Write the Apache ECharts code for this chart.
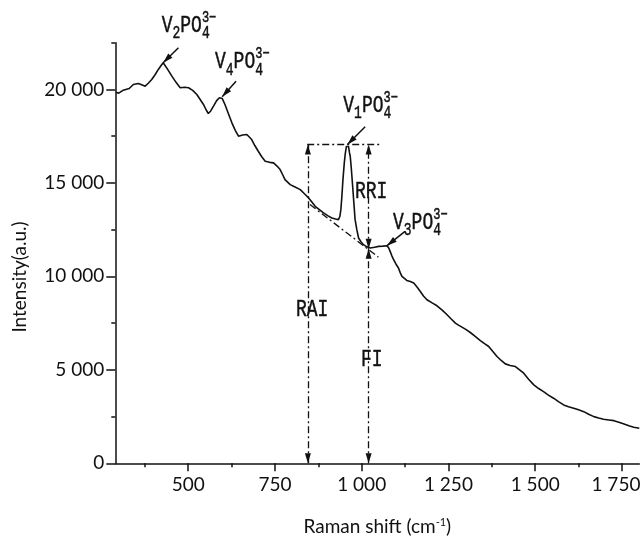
<!DOCTYPE html>
<html>
<head>
<meta charset="utf-8">
<title>Raman spectrum</title>
<script src="https://cdn.jsdelivr.net/npm/echarts@6.0.0/dist/echarts.min.js"></script>
<style>
  html, body { margin: 0; padding: 0; background: #fff; }
  #chart { width: 641px; height: 540px; }
</style>
</head>
<body>
<div id="chart"></div>
<script>
// 光谱数据: 拉曼位移 (cm-1) 与强度 (a.u.)
const ramanShift = [
  292, 300, 313, 330, 342, 356, 366, 376, 385, 395, 405, 414, 421, 428, 440, 453, 465, 477, 490, 501,
  513, 525, 535, 544, 552, 558, 565, 573, 582, 590, 598, 606, 616, 626, 636, 645, 657, 669, 683, 692,
  702, 712, 722, 735, 746, 756, 765, 772, 779, 794, 808, 823, 835, 847, 857, 866, 878, 890, 902, 914,
  925, 933, 937, 940, 943, 946, 950, 953, 956, 959, 962, 965, 967, 970, 974, 978, 981, 986, 991, 998,
  1005, 1015, 1025, 1037, 1049, 1061, 1073, 1078, 1082, 1087, 1092, 1099, 1106, 1111, 1116, 1130, 1140, 1150, 1160, 1169,
  1178, 1188, 1203, 1217, 1232, 1246, 1258, 1270, 1280, 1289, 1301, 1313, 1328, 1342, 1354, 1366, 1378, 1390, 1402, 1414,
  1428, 1443, 1455, 1467, 1481, 1496, 1510, 1524, 1538, 1553, 1567, 1582, 1596, 1611, 1625, 1640, 1654, 1669, 1683, 1697,
  1712, 1727, 1741, 1756, 1770, 1784, 1800
]
const intensity = [
  19855, 19800, 19960, 20050, 20266, 20320, 20250, 20175, 20330, 20534, 20800, 21070, 21250, 21430, 21100, 20710, 20380, 20090, 20120, 20090,
  19950, 19730, 19450, 19195, 18900, 18712, 18850, 19105, 19400, 19555, 19520, 19195, 18700, 18214, 17800, 17497, 17560, 17587, 17320, 17000,
  16693, 16400, 16157, 16100, 16071, 15900, 15713, 15450, 15177, 14909, 14780, 14641, 14420, 14196, 13960, 13746, 13570, 13393, 13250, 13125,
  13070, 13034, 13200, 13570, 14300, 15177, 16100, 16607, 16950, 17052, 16950, 16600, 16425, 15800, 14818, 13800, 13034, 12500, 12054, 11850,
  11695, 11580, 11518, 11560, 11604, 11620, 11641, 11520, 11336, 11100, 10891, 10650, 10446, 10200, 9997, 9782, 9720, 9643, 9420, 9193,
  8950, 8748, 8580, 8427, 8190, 7945, 7720, 7500, 7380, 7286, 7150, 6997, 6780, 6568, 6400, 6247, 5980, 5711, 5500, 5319,
  5230, 5175, 5000, 4821, 4500, 4195, 4000, 3836, 3650, 3482, 3300, 3123, 3030, 2946, 2860, 2764, 2620, 2496, 2420, 2357,
  2320, 2282, 2200, 2105, 2010, 1929, 1875
]

// 坐标轴刻度
const xMajorTicks = [500, 750, 1000, 1250, 1500, 1750]
const xMinorTicks = [375, 625, 875, 1125, 1375, 1625]
const yMajorTicks = [0, 5000, 10000, 15000, 20000]
const yMinorTicks = [2500, 7500, 12500, 17500, 22500]

// 峰标注箭头 (V2, V4, V1, V3)
const peakIndex = ['2', '4', '1', '3']
const peakShift = [428, 598, 959, 1073]
const peakIntensity = [21430, 19610, 17052, 11641]
const arrowFromShift = [472, 638, 1010, 1125]
const arrowFromIntensity = [22230, 20440, 18000, 12410]

// RAI / RRI / FI 辅助线
const raiShift = 845
const rriShift = 1020
const peakTop = 17050
const baseLevel = 11480
const topLineShift = [843, 1053]
const baselineShift = [851, 1048]
const baselineIntensity = [13840, 11030]

const ink = '#111'
const sans = 'Lato'
const mono = '"Liberation Mono"'
const stretch = 1.35

// 千位空格
const fmt = v => String(v).replace(/\B(?=(\d{3})+(?!\d))/g, ' ')

const chart = echarts.init(document.getElementById('chart'))

// 箭头: 三角形尖端落在端点上
const head = { symbol: 'triangle', symbolSize: [6, 10], symbolOffset: [0, 5] }
const dashDot = { color: ink, width: 1.3, type: [7, 3, 2, 3] }
const both = (a, b) => [{ coord: a, ...head }, { coord: b, ...head }]
const plain = (a, b) => [{ coord: a, symbol: 'none' }, { coord: b, symbol: 'none' }]

const guideLines = [
  plain([topLineShift[0], peakTop], [topLineShift[1], peakTop]),
  plain([baselineShift[0], baselineIntensity[0]], [baselineShift[1], baselineIntensity[1]]),
  both([raiShift, 0], [raiShift, peakTop]),
  both([rriShift, baseLevel], [rriShift, peakTop]),
  both([rriShift, 0], [rriShift, baseLevel])
]

const peakArrows = peakShift.map((s, i) => [
  { coord: [arrowFromShift[i], arrowFromIntensity[i]], symbol: 'none' },
  { coord: [s, peakIntensity[i]], ...head }
])

// 文字元素 (竖向拉伸的等宽衬线体)
function txt(x, baseline, text, fs) {
  return {
    type: 'text', x, y: baseline - 0.27 * fs * stretch, scaleY: stretch, silent: true,
    style: { text, fontSize: fs, fontFamily: mono, fill: ink, stroke: ink, lineWidth: 0.35, align: 'left', verticalAlign: 'middle' }
  }
}
function chem(x0, b, n) {
  return [
    txt(x0, b, 'V', 18),
    txt(x0 + 10.8, b + 6.5, n, 13),
    txt(x0 + 18.6, b, 'PO', 18),
    txt(x0 + 40.2, b - 10, '3\u2212', 12),
    txt(x0 + 40.2, b + 6.5, '4', 13)
  ]
}
const labelPos = [[161.7, 31.7], [215, 68.3], [343.3, 111.7], [393, 229]]

const graphic = []
labelPos.forEach((p, i) => graphic.push(...chem(p[0], p[1], peakIndex[i])))
graphic.push(txt(355, 198.3, 'RRI', 18))
graphic.push(txt(296, 316, 'RAI', 18))
graphic.push(txt(361, 366, 'FI', 18))
graphic.push({
  type: 'text', x: 20, y: 277, rotation: Math.PI / 2, silent: true,
  style: { text: 'Intensity(a.u.)', fontSize: 19, fontFamily: sans, fill: ink, align: 'center', verticalAlign: 'middle' }
})

const axisLine = { show: true, lineStyle: { color: ink, width: 1.5 } }

chart.setOption({
  animation: false,
  backgroundColor: '#fff',
  grid: { left: 115.3, right: 1.7, top: 42.7, bottom: 76.7, containLabel: false, outerBoundsMode: 'none' },
  xAxis: [
    {
      type: 'value', min: 290, max: 1800,
      axisLine,
      splitLine: { show: false },
      axisTick: { show: true, length: 8, lineStyle: { color: ink, width: 1.5 }, customValues: xMajorTicks },
      axisLabel: {
        customValues: xMajorTicks,
        // 最后一个标签略向左移, 避免被画布裁掉
        formatter: v => (v === 1750 ? '{edge|' + fmt(v) + '}' : fmt(v)),
        fontFamily: sans, fontSize: 19, color: ink, margin: 12,
        rich: { edge: { fontFamily: sans, fontSize: 19, color: ink, padding: [0, 12, 0, 0] } }
      },
      name: 'Raman shift (cm{sup|-1})', nameLocation: 'middle', nameGap: 54,
      nameTextStyle: { fontFamily: sans, fontSize: 19, color: ink, rich: { sup: { fontFamily: sans, fontSize: 11, color: ink, verticalAlign: 'top', padding: [0, 0, 8, 0] } } }
    },
    {
      type: 'value', min: 290, max: 1800, position: 'bottom',
      axisLine: { show: false },
      splitLine: { show: false },
      axisTick: { show: true, length: 4, lineStyle: { color: ink, width: 1.5 }, customValues: xMinorTicks },
      axisLabel: { show: false }
    }
  ],
  yAxis: [
    {
      type: 'value', min: 0, max: 22500,
      axisLine,
      splitLine: { show: false },
      axisTick: { show: true, length: 9, lineStyle: { color: ink, width: 1.5 }, customValues: yMajorTicks },
      axisLabel: { customValues: yMajorTicks, formatter: fmt, fontFamily: sans, fontSize: 19, color: ink, margin: 11 }
    },
    {
      type: 'value', min: 0, max: 22500, position: 'left',
      axisLine: { show: false },
      splitLine: { show: false },
      axisTick: { show: true, length: 4, lineStyle: { color: ink, width: 1.5 }, customValues: yMinorTicks },
      axisLabel: { show: false }
    }
  ],
  series: [
    {
      type: 'line',
      data: ramanShift.map((x, i) => [x, intensity[i]]),
      showSymbol: false,
      lineStyle: { color: ink, width: 1.6 },
      silent: true
    },
    {
      type: 'line', data: [], silent: true,
      markLine: {
        silent: true, animation: false, label: { show: false },
        lineStyle: dashDot, emphasis: { disabled: true },
        data: guideLines
      }
    },
    {
      type: 'line', data: [], silent: true,
      markLine: {
        silent: true, animation: false, label: { show: false },
        lineStyle: { color: ink, width: 1.5, type: 'solid' }, emphasis: { disabled: true },
        data: peakArrows
      }
    }
  ],
  graphic
})
</script>
</body>
</html>
